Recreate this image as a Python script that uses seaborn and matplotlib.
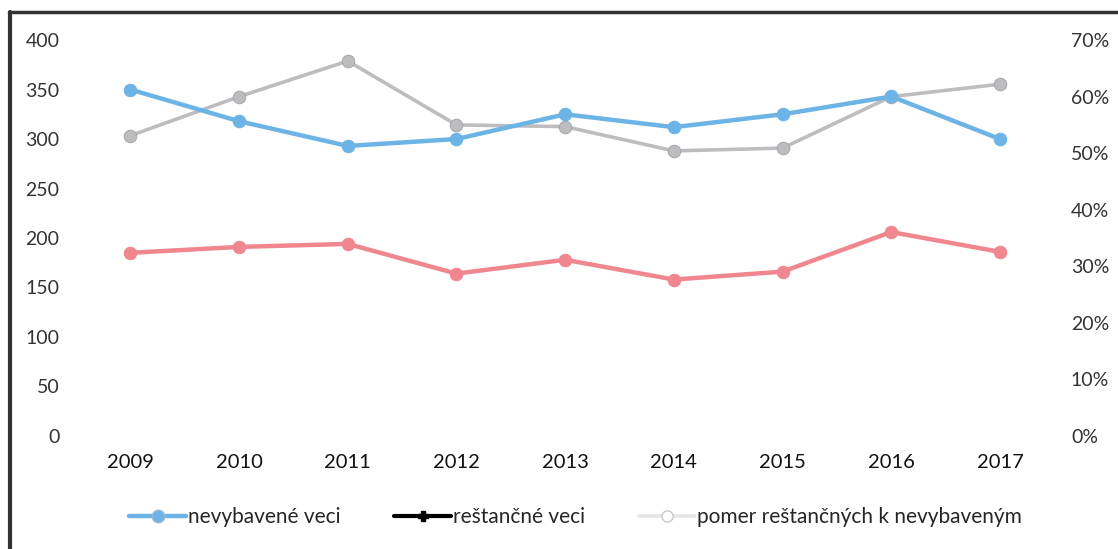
import numpy as np
import pandas as pd
import matplotlib.pyplot as plt
import seaborn as sns
from matplotlib.lines import Line2D
from matplotlib.ticker import PercentFormatter

# hodnoty odčítané z grafu
roky = [2009, 2010, 2011, 2012, 2013, 2014, 2015, 2016, 2017]
nevybavene = [350, 318, 293, 300, 325, 312, 325, 343, 300]
restancne = [185, 191, 194, 164, 178, 158, 166, 206, 186]
pomer = [0.531, 0.600, 0.663, 0.550, 0.547, 0.504, 0.509, 0.600, 0.622]

df = pd.DataFrame({'rok': roky, 'nevybavene': nevybavene,
                   'restancne': restancne, 'pomer': pomer})

sns.set_theme(style="white")
plt.rcParams['font.family'] = ['Lato', 'DejaVu Sans']

fig = plt.figure(figsize=(11.18, 5.49), dpi=100)
ax = fig.add_axes([0.068, 0.206, 0.875, 0.721])
ax2 = ax.twinx()

modra = '#6cb4e6'
ruzova = '#f0878f'
siva = '#bdbdc0'

sns.lineplot(data=df, x='rok', y='pomer', ax=ax2, color=siva, lw=2.6,
             marker='o', markersize=9, markeredgecolor='#a8a8ad', zorder=2)
sns.lineplot(data=df, x='rok', y='nevybavene', ax=ax, color=modra, lw=3.2,
             marker='o', markersize=9, markeredgecolor=modra)
sns.lineplot(data=df, x='rok', y='restancne', ax=ax, color=ruzova, lw=3.2,
             marker='o', markersize=9, markeredgecolor=ruzova)

# modra a ruzova nad sivou
ax.set_zorder(ax2.get_zorder() + 1)
ax.patch.set_visible(False)

ax.set_xlim(2008.5, 2017.5)
ax.set_ylim(0, 400)
ax2.set_ylim(0, 0.70)
ax.set_xticks(roky)
ax.set_xticklabels([str(r) for r in roky])
ax.set_yticks(range(0, 401, 50))
ax2.set_yticks(np.arange(0, 0.71, 0.1))
ax2.yaxis.set_major_formatter(PercentFormatter(1.0, decimals=0))

for a in (ax, ax2):
    a.set_xlabel('')
    a.set_ylabel('')
    for s in a.spines.values():
        s.set_visible(False)
    a.grid(False)

ax.tick_params(axis='y', length=0, pad=12, labelsize=14, labelcolor='#333333')
ax.tick_params(axis='x', length=0, pad=13, labelsize=14.5, labelcolor='#111111')
ax2.tick_params(axis='y', length=0, pad=12, labelsize=14, labelcolor='#333333')

handles = [
    Line2D([], [], color=modra, lw=3.2, marker='o', markersize=9, markeredgecolor='#a0b8d0'),
    Line2D([], [], color='black', lw=3, marker='P', markersize=7),
    Line2D([], [], color='#e6e6e6', lw=2.6, marker='o', markersize=8,
           markerfacecolor='white', markeredgecolor='#c8c8c8'),
]
labels = ['nevybavené veci', 'reštančné veci', 'pomer reštančných k nevybaveným']
fig.legend(handles, labels, loc='center', bbox_to_anchor=(0.515, 0.058), ncol=3,
           frameon=False, fontsize=15, handlelength=2.7, handletextpad=0.1,
           columnspacing=2.6)

# okraj zo skenu
fig.add_artist(Line2D([0.008, 1.0], [0.978, 0.978], color='#333333', lw=2.5))
fig.add_artist(Line2D([0.009, 0.009], [0.0, 0.978], color='#333333', lw=3))

fig.savefig('out.png', dpi=100)
